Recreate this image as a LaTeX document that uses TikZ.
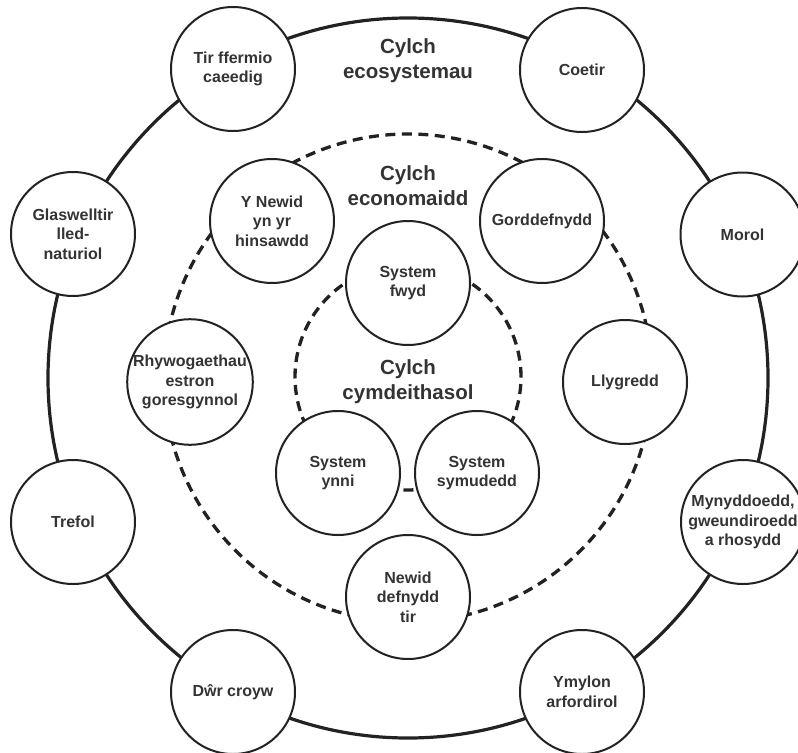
\documentclass[tikz,border=0pt]{standalone}
\usepackage{fontspec}
\setmainfont{Liberation Sans}
\definecolor{ink}{HTML}{222222}
\definecolor{txt}{HTML}{333333}
\begin{document}
\begin{tikzpicture}[x=1bp,y=-1bp,
  topic/.style={circle,draw=ink,line width=2bp,fill=white,minimum size=124bp,inner sep=0pt,align=center,text=txt,font=\fontsize{16bp}{19.5bp}\selectfont\bfseries},
  ringtitle/.style={align=center,text=txt,inner sep=0pt,font=\fontsize{20.5bp}{24.5bp}\selectfont\bfseries},
  solidring/.style={draw=ink,line width=3.2bp},
  dashring/.style={draw=ink,line width=3.3bp,dash pattern=on 10bp off 6.5bp}]
\useasboundingbox (0,0) rectangle (798,753);
\fill[white] (0,0) rectangle (798,753);
\coordinate (c) at (408,378);
% rings
\draw[solidring] (c) circle[radius=360bp];
\draw[dashring] (c) circle[radius=244bp];
\draw[dashring] (408,377) circle[radius=113bp];
% titles
\node[ringtitle] (teco) at (408,60.5) {Cylch\\ecosystemau};
\node[ringtitle] (tecon) at (408,185.5) {Cylch\\economaidd};
\node[ringtitle] (tsoc) at (408,381.5) {Cylch\\cymdeithasol};
% outer nodes
\node[topic] (tir) at (233,69) {Tir ffermio\\caeedig};
\node[topic] (coetir) at (582,70) {Coetir};
\node[topic] (glas) at (73,234) {Glaswelltir\\lled-\\naturiol};
\node[topic] (morol) at (742.5,234.5) {Morol};
\node[topic] (trefol) at (73,522) {Trefol};
\node[topic] (myny) at (743,522) {Mynyddoedd,\\gweundiroedd\\a rhosydd};
\node[topic] (dwr) at (233,692) {Dŵr croyw};
\node[topic] (ymylon) at (582,692) {Ymylon\\arfordirol};
% middle nodes
\node[topic] (newid) at (272,221) {Y Newid\\yn yr\\hinsawdd};
\node[topic] (gordd) at (542,221) {Gorddefnydd};
\node[topic] (rhyw) at (190,382) {Rhywogaethau\\estron\\goresgynnol};
\node[topic] (llyg) at (625,382) {Llygredd};
\node[topic] (tir2) at (408,597) {Newid\\defnydd\\tir};
% inner nodes
\node[topic] (fwyd) at (408,283) {System\\fwyd};
\node[topic] (ynni) at (338,473) {System\\ynni};
\node[topic] (symud) at (477,473) {System\\symudedd};
\end{tikzpicture}
\end{document}
